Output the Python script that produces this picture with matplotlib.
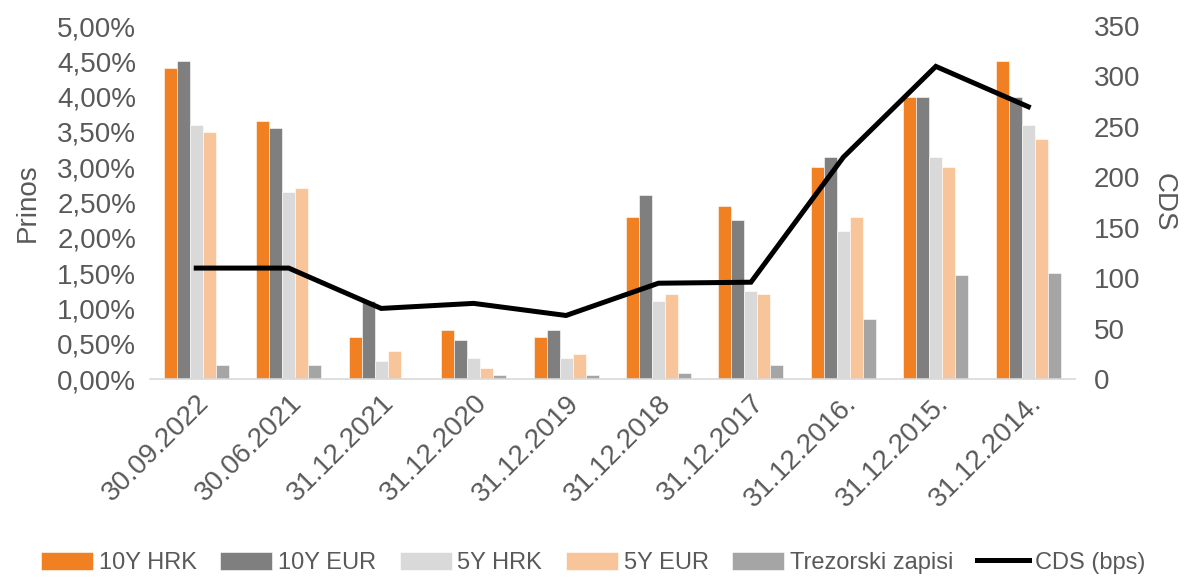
import matplotlib
matplotlib.use("Agg")
import matplotlib.pyplot as plt
import numpy as np
from matplotlib.ticker import FuncFormatter, MultipleLocator

dates = ["30.09.2022", "30.06.2021", "31.12.2021", "31.12.2020", "31.12.2019",
         "31.12.2018", "31.12.2017", "31.12.2016.", "31.12.2015.", "31.12.2014."]
hrk10 = [4.40, 3.65, 0.60, 0.70, 0.60, 2.30, 2.45, 3.00, 4.00, 4.50]
eur10 = [4.50, 3.55, 1.10, 0.55, 0.70, 2.60, 2.25, 3.15, 4.00, 4.00]
hrk5 = [3.60, 2.65, 0.25, 0.30, 0.30, 1.10, 1.25, 2.10, 3.15, 3.60]
eur5 = [3.50, 2.70, 0.40, 0.15, 0.35, 1.20, 1.20, 2.30, 3.00, 3.40]
trez = [0.20, 0.20, 0.00, 0.05, 0.05, 0.08, 0.20, 0.85, 1.47, 1.50]
cds = [110, 110, 70, 75, 63, 95, 96, 220, 310, 270]

series = [("10Y HRK", hrk10, "#F08022"), ("10Y EUR", eur10, "#7F7F7F"),
          ("5Y HRK", hrk5, "#D9D9D9"), ("5Y EUR", eur5, "#F8C59A"),
          ("Trezorski zapisi", trez, "#A5A5A5")]

plt.rcParams['font.family'] = ['Liberation Sans', 'DejaVu Sans']
tc = "#595959"

fig = plt.figure(figsize=(11.86, 5.79), dpi=100)
ax = fig.add_axes([0.1265, 0.3454, 0.7795, 0.6096])
ax2 = ax.twinx()

x = np.arange(len(dates))
w = 0.1405
handles = []
for i, (name, vals, col) in enumerate(series):
    b = ax.bar(x + (i - 2) * w, vals, w, color=col, edgecolor="white", linewidth=0.4, label=name)
    handles.append(b)

ln, = ax2.plot(x, cds, color="black", lw=3.6, solid_joinstyle="miter", label="CDS (bps)")
handles.append(ln)

ax.set_xlim(-0.5, len(dates) - 0.5)
ax.set_ylim(0, 5.0)
ax2.set_ylim(0, 350)
ax.yaxis.set_major_locator(MultipleLocator(0.5))
ax2.yaxis.set_major_locator(MultipleLocator(50))
ax.yaxis.set_major_formatter(FuncFormatter(lambda v, p: f"{v:.2f}%".replace(".", ",")))

for a in (ax, ax2):
    for s in a.spines.values():
        s.set_visible(False)
    a.tick_params(length=0, labelsize=20, labelcolor=tc)
ax.spines["bottom"].set_visible(True)
ax.spines["bottom"].set_color("#D9D9D9")
ax.spines["bottom"].set_linewidth(1.2)

ax.set_xticks(x)
ax.set_xticklabels(dates, rotation=45, ha="right", rotation_mode="anchor")
ax.tick_params(axis="x", pad=8)
ax.tick_params(axis="y", pad=10)
ax2.tick_params(axis="y", pad=14)

ax.set_ylabel("Prinos", fontsize=20, color=tc, labelpad=12)
ax2.set_ylabel("CDS", fontsize=20, color=tc, rotation=270, labelpad=26)

leg = fig.legend(handles=handles, labels=[h.get_label() for h in handles],
                 loc="center", bbox_to_anchor=(0.5, 0.028), ncol=6, frameon=False,
                 fontsize=17, handlelength=2.2, handleheight=0.8, handletextpad=0.25,
                 columnspacing=1.0)
for t in leg.get_texts():
    t.set_color(tc)

fig.savefig("out.png", dpi=100)
